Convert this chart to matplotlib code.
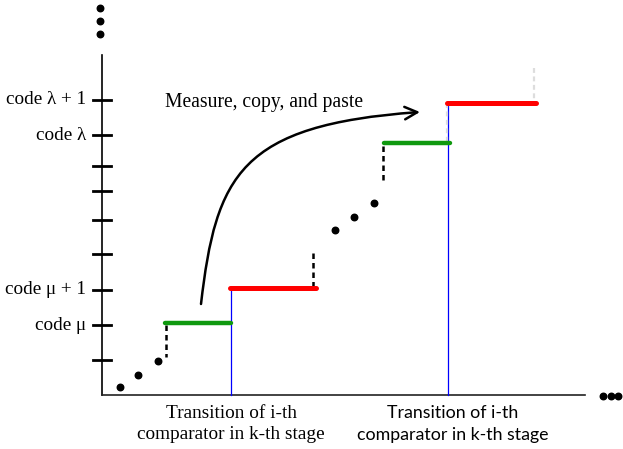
import matplotlib
matplotlib.use("Agg")
import matplotlib.pyplot as plt
from matplotlib.path import Path
from matplotlib.patches import FancyArrowPatch

# ---- data (diagram coordinates in pixel units, y grows downward) ----
tick_y = [100, 135, 166, 191, 220, 254, 290, 325, 360]
tick_labels = ["code λ + 1", "code λ", "", "", "", "", "code μ + 1", "code μ", ""]

green_x0 = [165, 384]
green_x1 = [231, 450]
green_y = [323, 143]
red_x0 = [230, 447]
red_x1 = [316, 536]
red_y = [288, 103]

black_dash_x = [166, 313, 383]
black_dash_y0 = [325, 253, 146]
black_dash_y1 = [357, 286, 183]

gray_dash_x = [447, 534]
gray_dash_y0 = [103, 68]
gray_dash_y1 = [143, 103]

blue_x = [231, 448]
blue_y_top = [288, 103]

dots_x = [120, 138, 158, 335, 354, 374]
dots_y = [387, 375, 361, 230, 217, 203]
top_dots_y = [8, 21, 34]
right_dots_x = [603, 611, 618]

arrow_pts = [(201, 304), (216, 175), (240, 125), (420, 112)]

fig = plt.figure(figsize=(6.23, 4.49), dpi=100)
ax = fig.add_axes([0, 0, 1, 1])
ax.set_xlim(0, 623)
ax.set_ylim(449, 0)
ax.axis("off")

ox, oy = 102, 395
# axes
ax.plot([ox, ox], [55, oy], color="black", lw=1.2)
ax.plot([ox, 585], [oy, oy], color="#222222", lw=1.2)
for y, lab in zip(tick_y, tick_labels):
    ax.plot([93, 111], [y, y], color="black", lw=2)
    if lab:
        ax.text(86, y, lab, ha="right", va="center", fontsize=13.8,
                family="Liberation Serif")

ax.scatter([100] * 3, top_dots_y, s=22, color="black", zorder=5)
ax.scatter(right_dots_x, [396] * 3, s=22, color="black", zorder=5)
ax.scatter(dots_x, dots_y, s=22, color="black", zorder=5)

for x, yt in zip(blue_x, blue_y_top):
    ax.plot([x, x], [yt, oy], color="blue", lw=0.9, zorder=2)

for x, y0, y1 in zip(black_dash_x, black_dash_y0, black_dash_y1):
    ax.plot([x, x], [y0, y1], color="black", lw=1.8, ls=(0, (2.2, 1.6)))
for x, y0, y1 in zip(gray_dash_x, gray_dash_y0, gray_dash_y1):
    ax.plot([x, x], [y0, y1], color="#dddddd", lw=1.6, ls=(0, (2.2, 1.6)))

for a, b, y in zip(green_x0, green_x1, green_y):
    ax.plot([a, b], [y, y], color="#0f990f", lw=3.2, solid_capstyle="round", zorder=3)
for a, b, y in zip(red_x0, red_x1, red_y):
    ax.plot([a, b], [y, y], color="#ff0000", lw=3.6, solid_capstyle="round", zorder=3)

path = Path(arrow_pts, [Path.MOVETO, Path.CURVE4, Path.CURVE4, Path.CURVE4])
arr = FancyArrowPatch(path=path, arrowstyle="->,head_length=9,head_width=4.5",
                      color="black", lw=1.8)
ax.add_patch(arr)

ax.text(165, 102, "Measure, copy, and paste", ha="left", va="center",
        fontsize=14.1, family="Liberation Serif")

ax.text(231, 424, "Transition of i-th\ncomparator in k-th stage", ha="center",
        va="center", fontsize=13.9, family="Liberation Serif", linespacing=1.35)
ax.text(453, 424, "Transition of i-th\ncomparator in k-th stage", ha="center",
        va="center", fontsize=12.8, family="Lato", linespacing=1.45)

fig.savefig("out.png", dpi=100)
